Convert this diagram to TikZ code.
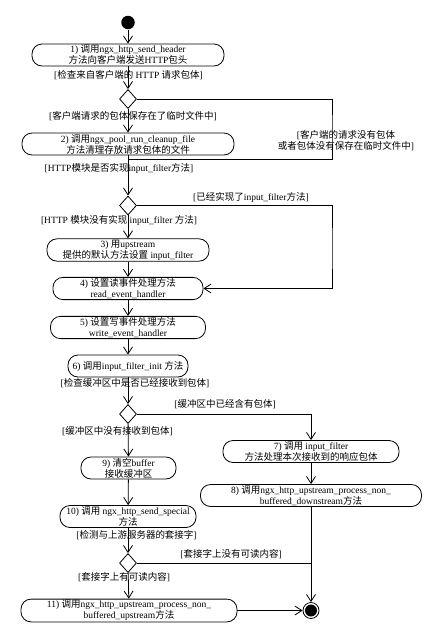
\documentclass[tikz,border=0pt]{standalone}
\usepackage{fontspec}
\setmainfont{Liberation Serif}
\newfontfamily\cjk{Noto Sans CJK SC}
\usetikzlibrary{shapes.geometric,arrows.meta}
\XeTeXinterchartokenstate=1
\newXeTeXintercharclass\cjkclass
\newcount\cjkcode
\cjkcode="3000
\loop \XeTeXcharclass\cjkcode=\cjkclass
  \ifnum\cjkcode<"303F \advance\cjkcode by 1 \repeat
\cjkcode="4E00
\loop \XeTeXcharclass\cjkcode=\cjkclass
  \ifnum\cjkcode<"9FFF \advance\cjkcode by 1 \repeat
\cjkcode="FF00
\loop \XeTeXcharclass\cjkcode=\cjkclass
  \ifnum\cjkcode<"FFEF \advance\cjkcode by 1 \repeat
\XeTeXinterchartoks 0 \cjkclass = {\begingroup\cjk}
\XeTeXinterchartoks 4095 \cjkclass = {\begingroup\cjk}
\XeTeXinterchartoks \cjkclass 0 = {\endgroup}
\XeTeXinterchartoks \cjkclass 4095 = {\endgroup}
\begin{document}
\begin{tikzpicture}[x=1pt,y=-1pt,line width=0.8pt,
  font=\fontsize{9.5}{11}\selectfont,
  act/.style={draw, rectangle, rounded corners=10pt, minimum height=22pt, inner sep=1pt, align=center},
  cond/.style={diamond, draw, inner sep=0pt, minimum width=17pt, minimum height=19pt},
  guard/.style={inner sep=0pt, align=center},
  flow/.style={-{Straight Barb[length=7pt,width=9pt]}}]
\useasboundingbox (0,0) rectangle (429,630);
\node (init) [circle, fill=black, minimum size=13.5pt, inner sep=0pt] at (128,22.5) {};
\node (a1) [act, minimum width=192pt] at (128,55) {1) 调用ngx\_http\_send\_header\\方法向客户端发送HTTP包头};
\node (g1) [guard] at (128.5,75) {[检查来自客户端的 HTTP 请求包体]};
\node (d1) [cond] at (128,99) {};
\node (g2) [guard] at (133,116) {[客户端请求的包体保存在了临时文件中]};
\node (a2) [act, minimum width=212pt] at (128,144) {2) 调用ngx\_pool\_run\_cleanup\_file\\方法清理存放请求包体的文件};
\node (g3) [guard] at (346,141) {[客户端的请求没有包体\\或者包体没有保存在临时文件中]};
\coordinate (k1) at (332,130);
\coordinate (j1) at (128,159);
\node (g4) [guard] at (119,168) {[HTTP模块是否实现input\_filter方法]};
\node (d2) [cond] at (128,205.5) {};
\node (g5) [guard] at (251,197) {[已经实现了input\_filter方法]};
\coordinate (k2) at (332,250);
\node (g6) [guard] at (119,220) {[HTTP 模块没有实现 input\_filter 方法]};
\node (a3) [act, minimum width=162pt] at (128,250) {3) 用upstream\\提供的默认方法设置 input\_filter};
\node (a4) [act, minimum width=150pt] at (128,288.5) {4) 设置读事件处理方法\\read\_event\_handler};
\node (a5) [act, minimum width=155pt] at (128,327.5) {5) 设置写事件处理方法\\write\_event\_handler};
\node (a6) [act, minimum width=120pt] at (128,366) {6) 调用input\_filter\_init 方法};
\node (g7) [guard] at (135,383) {[检查缓冲区中是否已经接收到包体]};
\node (d3) [cond] at (128,414) {};
\node (g8) [guard] at (225,404) {[缓冲区中已经含有包体]};
\node (g9) [guard] at (117.5,431) {[缓冲区中没有接收到包体]};
\node (a7) [act, minimum width=176pt] at (311,451.5) {7) 调用 input\_filter\\方法处理本次接收到的响应包体};
\node (a9) [act, minimum width=95pt] at (128.5,468) {9) 清空buffer\\接收缓冲区};
\node (a8) [act, minimum width=221pt] at (311,495.5) {8) 调用ngx\_http\_upstream\_process\_non\_\\buffered\_downstream方法};
\node (a10) [act, minimum width=136pt] at (128,516.5) {10) 调用 ngx\_http\_send\_special\\方法};
\node (g10) [guard] at (136.5,535) {[检测与上游服务器的套接字]};
\node (d4) [cond] at (128,563) {};
\node (g11) [guard] at (231,554) {[套接字上没有可读内容]};
\coordinate (j4) at (311,563);
\node (g12) [guard] at (124,577) {[套接字上有可读内容]};
\node (a11) [act, minimum width=216pt] at (129,610.5) {11) 调用ngx\_http\_upstream\_process\_non\_\\buffered\_upstream方法};
\node (stop) [circle, draw, minimum size=16pt, inner sep=0pt] at (311,610.5) {};
\node (stopdot) [circle, fill=black, minimum size=12pt, inner sep=0pt] at (311,610.5) {};
\draw [flow] (init) -- (a1);
\draw [flow] (a1) -- (d1);
\draw [flow] (d1) -- (a2);
\draw (d1.east) -| (k1) |- (j1);
\draw [flow] (a2) -- (d2);
\draw [flow] (d2) -- (a3);
\draw [flow] (d2.east) -| (k2) |- (a4.east);
\draw [flow] (a3) -- (a4);
\draw [flow] (a4) -- (a5);
\draw [flow] (a5) -- (a6);
\draw [flow] (a6) -- (d3);
\draw [flow] (d3.east) -| (a7.north);
\draw [flow] (d3) -- (a9);
\draw [flow] (a7) -- (a8);
\draw [flow] (a9) -- (a10);
\draw [flow] (a10) -- (d4);
\draw [flow] (a8) -- (stop);
\draw (d4.east) -- (j4);
\draw [flow] (d4) -- (a11);
\draw [flow] (a11) -- (stop);
\end{tikzpicture}
\end{document}
